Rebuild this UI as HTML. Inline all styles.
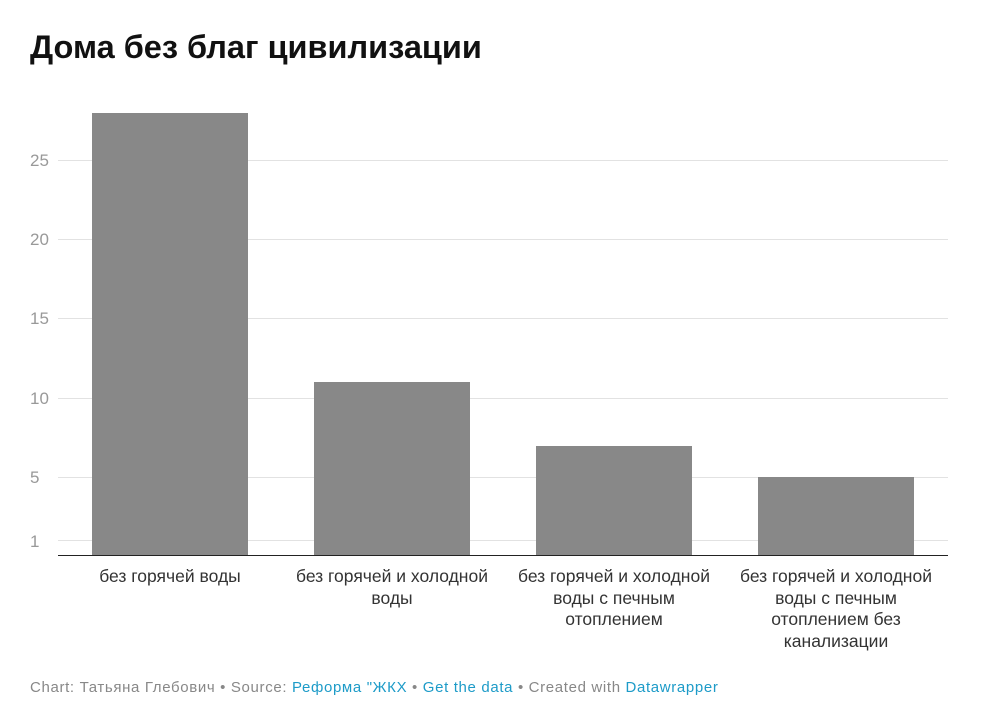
<!DOCTYPE html>
<html><head><meta charset="utf-8"><style>
body{margin:0;width:985px;height:715px;background:#fff;font-family:"Liberation Sans",sans-serif;position:relative;overflow:hidden}
.t{position:absolute;left:30px;top:29px;font-size:32.5px;font-weight:bold;color:#111}
.g{position:absolute;left:58px;width:890px;height:1px;background:#e2e2e2}
.yl{position:absolute;left:30px;font-size:17px;color:#999;line-height:17px}
.b{position:absolute;width:156px;background:#888;bottom:159px}
.xl{position:absolute;top:566px;width:204px;text-align:center;font-size:17.5px;line-height:21.5px;color:#333}
.f{position:absolute;left:30px;top:679px;font-size:15px;letter-spacing:0.65px;color:#888}
.f a{color:#1d9bc8;text-decoration:none}
</style></head><body>
<div class="t">Дома без благ цивилизации</div>
<div class="g" style="top:160px"></div><div class="yl" style="top:152px">25</div>
<div class="g" style="top:239px"></div><div class="yl" style="top:231px">20</div>
<div class="g" style="top:318px"></div><div class="yl" style="top:310px">15</div>
<div class="g" style="top:398px"></div><div class="yl" style="top:390px">10</div>
<div class="g" style="top:477px"></div><div class="yl" style="top:469px">5</div>
<div class="g" style="top:540px"></div><div class="yl" style="top:533px">1</div>
<div class="b" style="left:92px;top:113px"></div>
<div class="b" style="left:314px;top:382px"></div>
<div class="b" style="left:536px;top:446px"></div>
<div class="b" style="left:758px;top:477px"></div>
<div style="position:absolute;left:58px;top:555px;width:890px;height:1px;background:#222"></div>
<div class="xl" style="left:68px">без горячей воды</div>
<div class="xl" style="left:290px">без горячей и холодной воды</div>
<div class="xl" style="left:512px">без горячей и холодной воды с печным отоплением</div>
<div class="xl" style="left:734px">без горячей и холодной воды с печным отоплением без канализации</div>
<div class="f">Chart: Татьяна Глебович • Source: <a>Реформа "ЖКХ</a> • <a>Get the data</a> • Created with <a>Datawrapper</a></div>
</body></html>
